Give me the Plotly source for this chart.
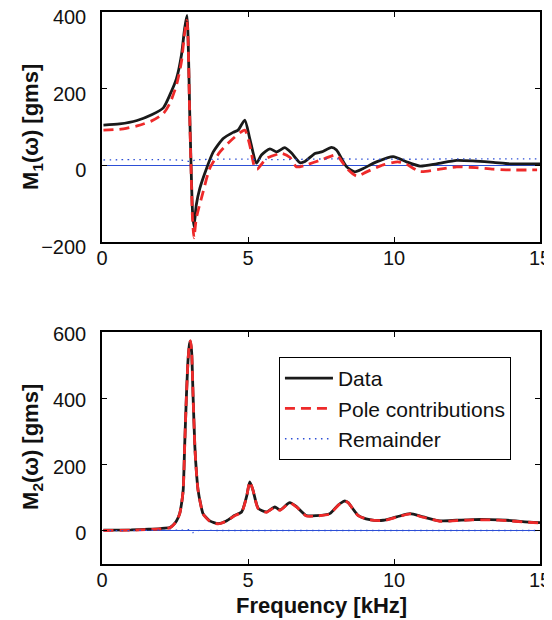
import plotly.graph_objects as go

# ---------------- data ----------------
# Top panel: M1(omega)
m1_data_f = [0.05, 0.6, 1.2, 1.7, 2.1, 2.32, 2.55, 2.72, 2.83, 2.91, 2.95, 3.0, 3.05, 3.1, 3.15,
             3.23, 3.35, 3.58, 3.81, 4.15, 4.49, 4.66, 4.89, 5.06, 5.29, 5.46, 5.75, 5.98, 6.26,
             6.49, 6.78, 6.95, 7.29, 7.52, 7.86, 8.03, 8.38, 8.66, 8.95, 9.4, 9.97, 10.43, 10.89,
             11.46, 12.15, 12.8, 13.4, 14.0, 15.0]
m1_data = [105, 108, 117, 132, 150, 183, 226, 287, 357, 391, 330, 150, 0, -120, -160,
           -103, -60, -8, 35, 70, 86, 92, 118, 70, 6, 27, 43, 35, 46,
           32, 7, 10, 31, 35, 47, 40, -4, -17, -8, 9, 23, 9, -2,
           4, 13, 11, 8, 4, 4]

m1_pole_f = [0.05, 0.6, 1.2, 1.7, 2.1, 2.32, 2.55, 2.72, 2.83, 2.91, 2.95, 3.0, 3.05, 3.1, 3.15,
             3.23, 3.46, 3.69, 4.04, 4.49, 4.89, 5.06, 5.24, 5.32, 5.63, 6.15, 6.43, 6.66, 6.95,
             7.57, 8.03, 8.38, 8.72, 9.06, 9.63, 10.13, 10.4, 10.89, 11.57, 12.15, 12.8, 13.4,
             14.0, 14.9]
m1_pole = [92, 94, 103, 116, 135, 161, 209, 270, 345, 378, 320, 140, -10, -140, -189,
           -138, -70, -8, 35, 70, 92, 53, -8, -10, 18, 31, 21, -4, 0,
           16, 27, -8, -28, -17, 1, 9, 4, -16, -10, -4, -6, -10,
           -12, -12]

m1_rem_f = [0.05, 1, 2, 2.8, 3.0, 3.2, 4, 5, 6, 7, 8, 9, 10, 11, 12, 13, 14, 15]
m1_rem = [14, 15, 15, 13, 10, 14, 16, 16, 15, 16, 17, 16, 16, 16, 17, 17, 17, 17]

# Bottom panel: M2(omega)
m2_data_f = [0.05, 1.0, 1.6, 2.0, 2.32, 2.43, 2.55, 2.66, 2.72, 2.78, 2.83, 2.89, 2.95, 3.0,
             3.03, 3.07, 3.12, 3.18, 3.24, 3.29, 3.38, 3.46, 3.69, 3.98, 4.26, 4.55, 4.78,
             4.95, 5.06, 5.17, 5.35, 5.63, 5.92, 6.09, 6.43, 6.66, 7.0, 7.35, 7.8, 8.09, 8.3,
             8.43, 8.77, 9.17, 9.63, 10.09, 10.55, 11.0, 11.57, 12.14, 12.7, 13.29, 13.86,
             14.4, 15.0]
m2_data = [2, 3, 5, 7, 10, 17, 30, 52, 80, 123, 254, 405, 520, 565,
           572, 540, 405, 254, 170, 123, 80, 52, 30, 22, 30, 47, 57,
           103, 148, 123, 68, 57, 72, 63, 85, 73, 46, 46, 52, 78, 90,
           85, 47, 34, 32, 42, 52, 42, 30, 32, 34, 34, 32,
           28, 25]

m2_pole_f = m2_data_f
m2_pole = [1, 2, 4, 6, 9, 16, 29, 51, 79, 122, 253, 404, 520, 566,
           574, 541, 405, 253, 169, 122, 79, 51, 29, 21, 29, 46, 56,
           102, 148, 123, 67, 56, 71, 62, 84, 72, 45, 45, 51, 77, 90,
           85, 46, 33, 31, 41, 51, 41, 29, 31, 33, 33, 31,
           27, 24]

m2_rem_f = [0.05, 1, 2, 2.8, 3.0, 3.1, 3.3, 4, 5, 6, 7, 8, 9, 10, 11, 12, 13, 14, 15]
m2_rem = [1, 1, 2, 2, 3, -5, 1, 1, 1, 1, 1, 1, 1, 1, 1, 1, 1, 1, 1]

x_ticks = [0, 5, 10, 15]
y1_ticks = [-200, 0, 200, 400]
y2_ticks = [0, 200, 400, 600]

# ---------------- styling ----------------
BLACK = "#1a1a1a"
RED = "#ee2a2a"
BLUE = "#2d4fd6"
FONT = "Liberation Sans, Arial, Helvetica, sans-serif"

fig = go.Figure()

def add_panel(xa, ya, fd, d, fp, p, fr, r, show):
    fig.add_trace(go.Scatter(x=fd, y=d, mode="lines", name="Data",
                             line=dict(color=BLACK, width=2.8, shape="spline", smoothing=0.6),
                             xaxis=xa, yaxis=ya, showlegend=show))
    fig.add_trace(go.Scatter(x=fp, y=p, mode="lines", name="Pole contributions",
                             line=dict(color=RED, width=2.8, dash="10px,6px", shape="spline", smoothing=0.6),
                             xaxis=xa, yaxis=ya, showlegend=show))
    fig.add_trace(go.Scatter(x=fr, y=r, mode="lines", name="Remainder",
                             line=dict(color=BLUE, width=1.3, dash="1.5px,4.5px", shape="spline", smoothing=0.6),
                             xaxis=xa, yaxis=ya, showlegend=show))

add_panel("x", "y", m1_data_f, m1_data, m1_pole_f, m1_pole, m1_rem_f, m1_rem, False)
add_panel("x2", "y2", m2_data_f, m2_data, m2_pole_f, m2_pole, m2_rem_f, m2_rem, True)

axis_common = dict(showline=True, linecolor="black", linewidth=1.5, mirror="ticks",
                   ticks="inside", ticklen=5, tickcolor="black", tickwidth=1,
                   showgrid=False, automargin=False, ticklabeloverflow="allow",
                   tickfont=dict(family=FONT, size=20, color="#111"))

# The page body has an 8px margin, so the figure is 8px smaller and margins shifted.
fig.update_layout(
    width=544, height=612,
    margin=dict(l=94, r=12, t=4, b=56, autoexpand=False),
    paper_bgcolor="white", plot_bgcolor="white",
    font=dict(family=FONT, color="#111"),
    xaxis=dict(domain=[0, 1], anchor="y", range=[0, 15], tickvals=x_ticks,
               zeroline=False, ticklabelstandoff=-3, **axis_common),
    yaxis=dict(domain=[0.5833, 1], anchor="x", range=[-200, 400], tickvals=y1_ticks,
               zeroline=True, zerolinecolor=BLUE, zerolinewidth=1.2,
               ticklabelstandoff=10, ticklabelshift=5, **axis_common),
    xaxis2=dict(domain=[0, 1], anchor="y2", range=[0, 15], tickvals=x_ticks,
                zeroline=False, ticklabelstandoff=-3, **axis_common),
    yaxis2=dict(domain=[0, 0.4203], anchor="x2", range=[-100, 600], tickvals=y2_ticks,
                zeroline=True, zerolinecolor=BLUE, zerolinewidth=1.2,
                ticklabelstandoff=10, ticklabelshift=2, **axis_common),
    legend=dict(x=0.404, y=0.375, xanchor="left", yanchor="top",
                bgcolor="white", bordercolor="black", borderwidth=1, itemwidth=48,
                font=dict(family=FONT, size=21, color="#111")),
    annotations=[
        dict(text="<b>M<sub>1</sub>(ω) [gms]</b>", xref="paper", yref="paper",
             x=-0.16, y=0.7917, xanchor="center", yanchor="middle", textangle=-90,
             showarrow=False, font=dict(family=FONT, size=22, color="#111")),
        dict(text="<b>M<sub>2</sub>(ω) [gms]</b>", xref="paper", yref="paper",
             x=-0.16, y=0.212, xanchor="center", yanchor="middle", textangle=-90,
             showarrow=False, font=dict(family=FONT, size=22, color="#111")),
        dict(text="<b>Frequency [kHz]</b>", xref="paper", yref="paper",
             x=0.5, y=-0.0743, xanchor="center", yanchor="middle",
             showarrow=False, font=dict(family=FONT, size=22, color="#111")),
    ],
)

fig.write_html("out.html")
